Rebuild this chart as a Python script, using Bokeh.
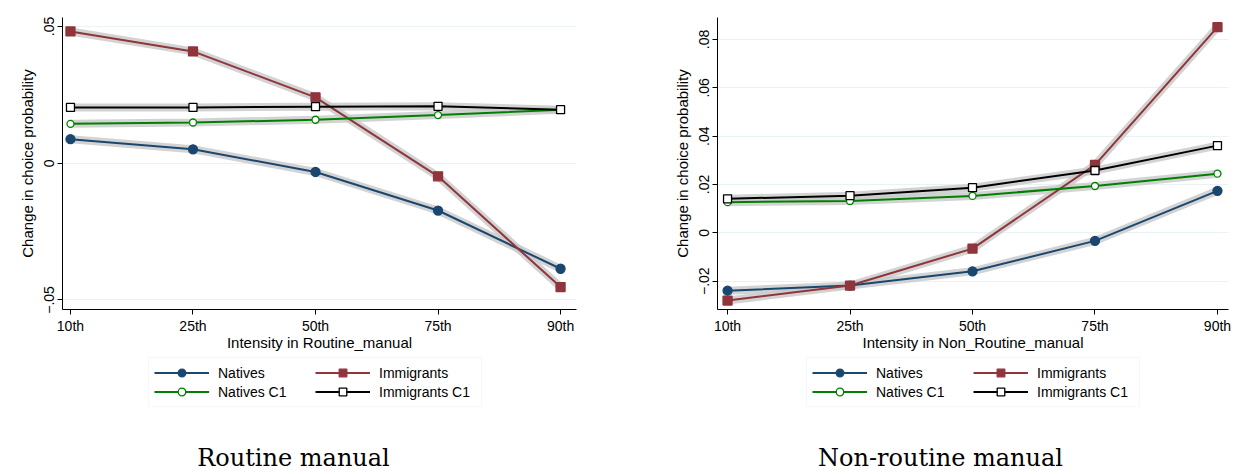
from bokeh.plotting import figure
from bokeh.models import FixedTicker, Legend, LegendItem, Label, Range1d
from bokeh.layouts import row, column
from bokeh.embed import file_html
from bokeh.resources import INLINE

# percentiles on the x axis
pct_labels = ["10th", "25th", "50th", "75th", "90th"]

# Routine manual panel
rm_natives = [0.0088, 0.0051, -0.0032, -0.0173, -0.0386]
rm_immig = [0.0482, 0.0409, 0.0241, -0.0048, -0.0453]
rm_natives_c1 = [0.0144, 0.0149, 0.0159, 0.0176, 0.0196]
rm_immig_c1 = [0.0204, 0.0204, 0.0207, 0.0208, 0.0196]
rm_yticks = [-0.05, 0, 0.05]
rm_ylabels = ["\u2212.05", "0", ".05"]

# Non-routine manual panel
nrm_natives = [-0.0239, -0.0218, -0.0159, -0.0033, 0.0174]
nrm_immig = [-0.0280, -0.0218, -0.0065, 0.0281, 0.0851]
nrm_natives_c1 = [0.0127, 0.0132, 0.0153, 0.0194, 0.0245]
nrm_immig_c1 = [0.0141, 0.0154, 0.0187, 0.0258, 0.0361]
nrm_yticks = [-0.02, 0, 0.02, 0.04, 0.06, 0.08]
nrm_ylabels = ["\u2212.02", "0", ".02", ".04", ".06", ".08"]

series_names = ["Natives", "Immigrants", "Natives C1", "Immigrants C1"]

FONT = "Liberation Sans"
NAVY = "#1a476f"
MAROON = "#90353b"
GREEN = "#008000"
GRID = "#eaf2f3"

# colour, marker, marker fill, marker size for each series
styles = [
    (NAVY, "circle", NAVY, 9),
    (MAROON, "square", MAROON, 9),
    (GREEN, "circle", "white", 7),
    ("black", "square", "white", 8),
]


def make_panel(caption, xlabel, data, yticks, ylabels, yr, xr,
               width, left, fw, leg_x, cap_x):
    right = width - left - fw
    p = figure(width=width, height=355, output_backend="svg", toolbar_location=None,
               x_range=Range1d(*xr), y_range=Range1d(*yr),
               min_border_left=left, min_border_right=right,
               min_border_top=17, min_border_bottom=46)
    p.outline_line_color = None
    p.xgrid.visible = False
    p.ygrid.grid_line_color = GRID
    p.ygrid.ticker = FixedTicker(ticks=yticks)

    xs = list(range(len(pct_labels)))
    p.xaxis.ticker = FixedTicker(ticks=xs)
    p.xaxis.major_label_overrides = {i: lab for i, lab in zip(xs, pct_labels)}
    p.yaxis.ticker = FixedTicker(ticks=yticks)
    p.yaxis.major_label_overrides = {(0 if t == 0 else t): lab for t, lab in zip(yticks, ylabels)}
    p.yaxis.major_label_orientation = "vertical"
    p.xaxis.axis_label = xlabel
    p.yaxis.axis_label = "Change in choice probability"
    for ax in (p.xaxis[0], p.yaxis[0]):
        ax.minor_tick_line_color = None
        ax.major_tick_out = 5
        ax.major_tick_in = 0
        ax.axis_line_color = "black"
        ax.major_tick_line_color = "black"
        ax.major_label_text_font = FONT
        ax.major_label_text_font_size = "14px"
        ax.major_label_text_color = "black"
        ax.axis_label_text_font = FONT
        ax.axis_label_text_font_size = "15px"
        ax.axis_label_text_font_style = "normal"
        ax.axis_label_text_color = "black"
    p.xaxis.major_label_standoff = 3
    p.xaxis.axis_label_standoff = -3
    p.yaxis.major_label_standoff = 3
    p.yaxis.axis_label_standoff = 6

    # grey confidence halo underneath every line
    for ys in data:
        p.line(xs, ys, line_width=8, color="#c8c8c8", alpha=0.8)
    for ys, (col, mk, fill, sz) in zip(data, styles):
        p.line(xs, ys, line_width=2, color=col)
        p.scatter(xs, ys, marker=mk, size=sz, line_color=col, fill_color=fill, line_width=1.3)

    # legend and caption live in a strip underneath the plot
    q = figure(output_backend="svg", toolbar_location=None,
               x_axis_location=None, y_axis_location=None,
               min_border_left=left, min_border_right=right,
               min_border_top=0, min_border_bottom=0, frame_height=119, frame_width=fw)
    q.outline_line_color = None
    q.xgrid.visible = False
    q.ygrid.visible = False
    nan = float("nan")
    items = []
    for name, (col, mk, fill, sz) in zip(series_names, styles):
        ln = q.line([nan], [nan], line_width=2, color=col)
        sc = q.scatter([nan], [nan], marker=mk, size=sz, line_color=col,
                       fill_color=fill, line_width=1.3)
        items.append(LegendItem(label=name, renderers=[ln, sc]))
    legend = Legend(items=items, orientation="horizontal", ncols=2, location=(leg_x, 67),
                    glyph_width=55, glyph_height=19, label_height=19, label_width=97,
                    label_standoff=9, spacing=0, padding=5, margin=0,
                    label_text_font=FONT, label_text_font_size="14px",
                    label_text_color="black",
                    border_line_color=GRID, border_line_width=1.5,
                    background_fill_color="white")
    q.add_layout(legend)
    q.add_layout(Label(x=cap_x, y=17, x_units="screen", y_units="screen", text=caption,
                       text_align="center", text_baseline="alphabetic",
                       text_font="DejaVu Serif", text_font_size="24px",
                       text_color="black"))
    return column(p, q)


left_panel = make_panel("Routine manual", "Intensity in Routine_manual",
                        [rm_natives, rm_immig, rm_natives_c1, rm_immig_c1],
                        rm_yticks, rm_ylabels, (-0.0535, 0.0533), (-0.065, 4.13),
                        652, 62, 514, 86, 231)
right_panel = make_panel("Non-routine manual", "Intensity in Non_Routine_manual",
                         [nrm_natives, nrm_immig, nrm_natives_c1, nrm_immig_c1],
                         nrm_yticks, nrm_ylabels, (-0.0317, 0.0891), (-0.082, 4.09),
                         584, 65, 511, 89, 223)

p = row(left_panel, right_panel)
open("out.html", "w").write(file_html(p, INLINE))
